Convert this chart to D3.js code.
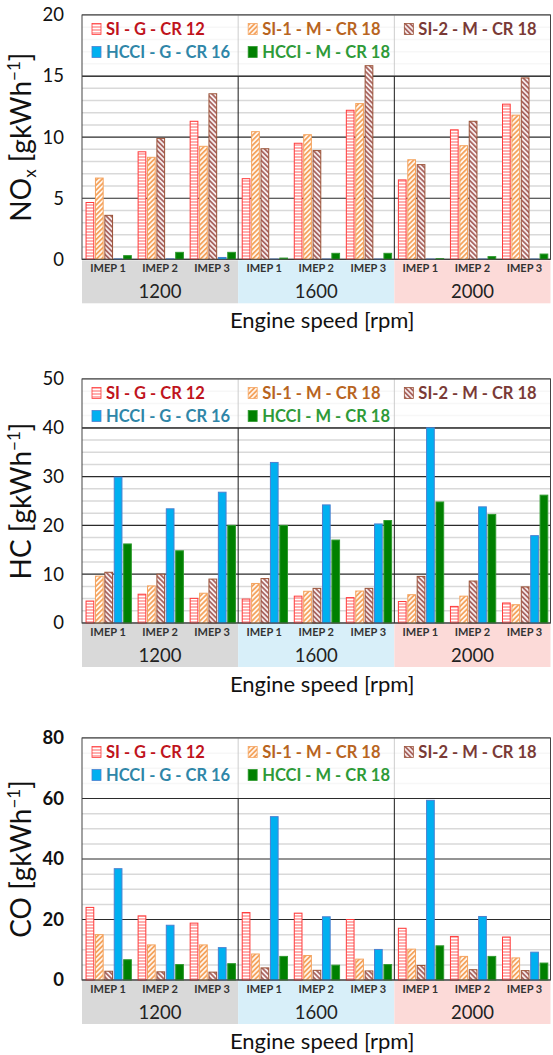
<!DOCTYPE html>
<html>
<head>
<meta charset="utf-8">
<script src="https://cdn.jsdelivr.net/npm/d3@7"></script>
<style>
  body { margin: 0; background: #fff; }
  svg { display: block; font-family: Lato, "Open Sans", sans-serif; }
</style>
</head>
<body>
<div id="chart"></div>
<script>
// categories
var speeds = ["1200", "1600", "2000"];
var imeps = ["IMEP 1", "IMEP 2", "IMEP 3"];
var seriesKeys = ["siG", "si1M", "si2M", "hcciG", "hcciM"];
var seriesNames = ["SI - G - CR 12", "SI-1 - M - CR 18", "SI-2 - M - CR 18", "HCCI - G - CR 16", "HCCI - M - CR 18"];

// NOx [g/kWh], order: 1200 IMEP1..3, 1600 IMEP1..3, 2000 IMEP1..3
var noxSiG   = [4.65, 8.8, 11.3, 6.6, 9.5, 12.2, 6.5, 10.6, 12.7];
var noxSi1M  = [6.65, 8.35, 9.25, 10.45, 10.2, 12.75, 8.15, 9.3, 11.8];
var noxSi2M  = [3.6, 9.9, 13.55, 9.05, 8.9, 15.85, 7.75, 11.3, 14.85];
var noxHcciG = [0.03, 0.03, 0.15, 0.02, 0.02, 0.02, 0.02, 0.02, 0.02];
var noxHcciM = [0.3, 0.57, 0.57, 0.1, 0.49, 0.49, 0.05, 0.22, 0.43];

// HC [g/kWh]
var hcSiG   = [4.5, 5.9, 5.05, 4.9, 5.5, 5.2, 4.4, 3.4, 4.1];
var hcSi1M  = [9.6, 7.6, 6.1, 8.1, 6.5, 6.55, 5.8, 5.5, 3.75];
var hcSi2M  = [10.4, 10.0, 9.0, 9.1, 7.1, 7.1, 9.55, 8.6, 7.4];
var hcHcciG = [29.9, 23.4, 26.8, 32.9, 24.2, 20.3, 40.0, 23.8, 17.9];
var hcHcciM = [16.2, 14.8, 20.0, 20.0, 17.0, 21.0, 24.8, 22.25, 26.2];

// CO [g/kWh]
var coSiG   = [24.0, 21.2, 18.8, 22.3, 22.1, 20.0, 17.1, 14.4, 14.2];
var coSi1M  = [15.0, 11.6, 11.6, 8.6, 8.1, 6.9, 10.2, 7.8, 7.3];
var coSi2M  = [2.9, 2.7, 2.6, 4.0, 3.2, 3.0, 4.8, 3.4, 3.1];
var coHcciG = [36.8, 18.1, 10.7, 54.0, 20.9, 10.1, 59.4, 21.0, 9.2];
var coHcciM = [6.7, 5.1, 5.4, 7.8, 4.9, 5.1, 11.3, 7.8, 5.6];

// tick labels
var noxTicks = [0, 5, 10, 15, 20];
var hcTicks = [0, 10, 20, 30, 40, 50];
var coTicks = [0, 20, 40, 60, 80];

var W = 553, H = 1055;
var plotLeft = 82, plotRight = 550.5;

var svg = d3.select("#chart").append("svg")
  .attr("width", W)
  .attr("height", H);

var defs = svg.append("defs");

// fill patterns
var pRed = defs.append("pattern").attr("id", "p-siG")
  .attr("patternUnits", "userSpaceOnUse").attr("width", 6).attr("height", 3);
pRed.append("rect").attr("width", 6).attr("height", 3).attr("fill", "#ffb0b0");
pRed.append("rect").attr("y", 2).attr("width", 6).attr("height", 1).attr("fill", "#ffffff");

var pOr = defs.append("pattern").attr("id", "p-si1M")
  .attr("patternUnits", "userSpaceOnUse").attr("width", 3.5).attr("height", 3.5)
  .attr("patternTransform", "rotate(45)");
pOr.append("rect").attr("width", 3.5).attr("height", 3.5).attr("fill", "#fff6ee");
pOr.append("rect").attr("width", 1.7).attr("height", 3.5).attr("fill", "#f4a15a");

var pBr = defs.append("pattern").attr("id", "p-si2M")
  .attr("patternUnits", "userSpaceOnUse").attr("width", 3.5).attr("height", 3.5)
  .attr("patternTransform", "rotate(-45)");
pBr.append("rect").attr("width", 3.5).attr("height", 3.5).attr("fill", "#f6ecec");
pBr.append("rect").attr("width", 1.7).attr("height", 3.5).attr("fill", "#a8625e");

var fills = { siG: "url(#p-siG)", si1M: "url(#p-si1M)", si2M: "url(#p-si2M)", hcciG: "#00b0f0", hcciM: "#008000" };
var strokes = { siG: "#ff3b3b", si1M: "#f4a460", si2M: "#9a5236", hcciG: "#4a80d0", hcciM: "#2f9a2f" };
var textCol = { siG: "#c0141c", si1M: "#b8641e", si2M: "#7a3a36", hcciG: "#2f86a8", hcciM: "#2e9a38" };
var bandCol = { "1200": "#d9d9d9", "1600": "#d8eff9", "2000": "#fcdad8" };

// scales shared by all panels
var x0 = d3.scaleBand().domain(speeds).range([plotLeft, plotRight]);
var x1 = d3.scaleBand().domain(imeps).range([0, x0.bandwidth()]);
var x2 = d3.scaleBand().domain(seriesKeys).range([0, x1.bandwidth()])
  .paddingInner(0.18).paddingOuter(0.36).align(0.6);

function rows(a, b, c, d, e) {
  var out = [];
  speeds.forEach(function(s, i) {
    imeps.forEach(function(m, j) {
      var k = i * 3 + j;
      out.push({ speed: s, imep: m, siG: a[k], si1M: b[k], si2M: c[k], hcciG: d[k], hcciM: e[k] });
    });
  });
  return out;
}

var panels = [
  { name: "NO", sub: "x", top: 15, zero: 259.3, max: 20, ticks: noxTicks, minor: 1, legendTo: 15, bold: false,
    data: rows(noxSiG, noxSi1M, noxSi2M, noxHcciG, noxHcciM) },
  { name: "HC", sub: "", top: 379, zero: 623, max: 50, ticks: hcTicks, minor: 2.5, legendTo: 40, bold: false,
    data: rows(hcSiG, hcSi1M, hcSi2M, hcHcciG, hcHcciM) },
  { name: "CO", sub: "", top: 738, zero: 980, max: 80, ticks: coTicks, minor: 5, legendTo: 60, bold: true,
    data: rows(coSiG, coSi1M, coSi2M, coHcciG, coHcciM) }
];

panels.forEach(function(p) {
  var y = d3.scaleLinear().domain([0, p.max]).range([p.zero, p.top]);
  var g = svg.append("g");

  // minor gridlines
  g.append("g").selectAll("line")
    .data(d3.range(0, p.max + 0.001, p.minor).filter(function(v) { return p.ticks.indexOf(v) < 0; }))
    .join("line")
    .attr("x1", plotLeft).attr("x2", plotRight)
    .attr("y1", function(d) { return y(d); }).attr("y2", function(d) { return y(d); })
    .attr("stroke", "#d9d9d9").attr("stroke-width", 1.5);

  // major gridlines
  g.append("g").selectAll("line")
    .data(p.ticks)
    .join("line")
    .attr("x1", plotLeft).attr("x2", plotRight)
    .attr("y1", function(d) { return y(d); }).attr("y2", function(d) { return y(d); })
    .attr("stroke", "#2b2b2b").attr("stroke-width", 1.2);

  // speed dividers
  g.append("g").selectAll("line")
    .data(speeds.slice(1))
    .join("line")
    .attr("x1", function(d) { return x0(d); }).attr("x2", function(d) { return x0(d); })
    .attr("y1", p.top).attr("y2", p.zero)
    .attr("stroke", "#1a1a1a").attr("stroke-width", 1);

  // legend box (semi transparent white over the top part of the grid)
  g.append("rect")
    .attr("x", plotLeft).attr("y", p.top)
    .attr("width", plotRight - plotLeft).attr("height", y(p.legendTo) - p.top)
    .attr("fill", "#ffffff").attr("opacity", 0.78);
  g.append("line")
    .attr("x1", plotLeft).attr("x2", plotRight)
    .attr("y1", y(p.legendTo)).attr("y2", y(p.legendTo))
    .attr("stroke", "#2b2b2b").attr("stroke-width", 1.2);

  // bars
  var groups = g.append("g").selectAll("g")
    .data(p.data)
    .join("g")
    .attr("transform", function(d) { return "translate(" + (x0(d.speed) + x1(d.imep)) + ",0)"; });
  groups.selectAll("rect")
    .data(function(d) { return seriesKeys.map(function(k) { return { key: k, value: d[k] }; }); })
    .join("rect")
    .attr("x", function(d) { return x2(d.key); })
    .attr("width", x2.bandwidth())
    .attr("y", function(d) { return y(d.value); })
    .attr("height", function(d) { return y(0) - y(d.value); })
    .attr("fill", function(d) { return fills[d.key]; })
    .attr("stroke", function(d) { return strokes[d.key]; })
    .attr("stroke-width", 1);

  var leg = g.append("g").selectAll("g")
    .data(seriesKeys)
    .join("g")
    .attr("transform", function(d, i) {
      return "translate(" + (x0(speeds[i % 3]) + 10) + "," + (p.top + 14 + Math.floor(i / 3) * 23) + ")";
    });
  leg.append("rect")
    .attr("x", 0).attr("y", -5.5).attr("width", 9).attr("height", 11)
    .attr("fill", function(d) { return fills[d]; })
    .attr("stroke", function(d) { return strokes[d]; })
    .attr("stroke-width", 0.8);
  leg.append("text")
    .attr("x", 14).attr("y", 0)
    .attr("dy", "0.36em")
    .attr("font-size", 16.5).attr("font-weight", "bold")
    .attr("fill", function(d) { return textCol[d]; })
    .text(function(d) { return seriesNames[seriesKeys.indexOf(d)]; });

  // plot frame
  g.append("rect")
    .attr("x", plotLeft).attr("y", p.top)
    .attr("width", plotRight - plotLeft).attr("height", p.zero - p.top)
    .attr("fill", "none").attr("stroke", "#444").attr("stroke-width", 1);

  // y axis
  var yAxis = g.append("g")
    .attr("transform", "translate(" + plotLeft + ",0)")
    .call(d3.axisLeft(y).tickValues(p.ticks).tickSize(0).tickPadding(18));
  yAxis.select(".domain").remove();
  yAxis.selectAll("text")
    .attr("font-size", 18.5)
    .attr("font-family", "Lato, sans-serif")
    .attr("font-weight", p.bold ? "bold" : "normal")
    .attr("fill", "#111");

  // y title
  var yt = g.append("text")
    .attr("transform", "translate(31," + ((p.top + p.zero) / 2) + ") rotate(-90)")
    .attr("text-anchor", "middle")
    .attr("font-size", 28)
    .attr("fill", "#111");
  yt.append("tspan").text(p.name);
  if (p.sub) {
    yt.append("tspan").attr("font-size", 17).attr("dy", 5).text(p.sub);
    yt.append("tspan").attr("dy", -5).text(" [gkWh");
  } else {
    yt.append("tspan").text(" [gkWh");
  }
  yt.append("tspan").attr("font-size", 17).attr("dy", -11).text("\u22121");
  yt.append("tspan").attr("dy", 11).text("]");

  // category bands under the axis
  var band = g.append("g");
  band.selectAll("rect")
    .data(speeds)
    .join("rect")
    .attr("x", function(d) { return x0(d); })
    .attr("y", p.zero + 1)
    .attr("width", x0.bandwidth())
    .attr("height", 43)
    .attr("fill", function(d) { return bandCol[d]; });

  var imepLabels = [];
  speeds.forEach(function(s) { imeps.forEach(function(m) { imepLabels.push({ speed: s, imep: m }); }); });
  band.append("g").selectAll("text")
    .data(imepLabels)
    .join("text")
    .attr("x", function(d) { return x0(d.speed) + x1(d.imep) + x1.bandwidth() / 2; })
    .attr("y", p.zero + 9)
    .attr("dy", "0.36em")
    .attr("text-anchor", "middle")
    .attr("font-size", 11).attr("font-weight", "bold")
    .attr("fill", "#333")
    .text(function(d) { return d.imep; });

  band.append("g").selectAll("text")
    .data(speeds)
    .join("text")
    .attr("x", function(d) { return x0(d) + x0.bandwidth() / 2; })
    .attr("y", p.zero + 32)
    .attr("dy", "0.36em")
    .attr("text-anchor", "middle")
    .attr("font-size", 18.5)
    .attr("fill", "#222")
    .text(function(d) { return d; });

  g.append("text")
    .attr("x", (plotLeft + plotRight) / 2 + 6)
    .attr("y", p.zero + 61)
    .attr("dy", "0.36em")
    .attr("text-anchor", "middle")
    .attr("font-size", 22)
    .attr("fill", "#111")
    .text("Engine speed [rpm]");
});
</script>
</body>
</html>
